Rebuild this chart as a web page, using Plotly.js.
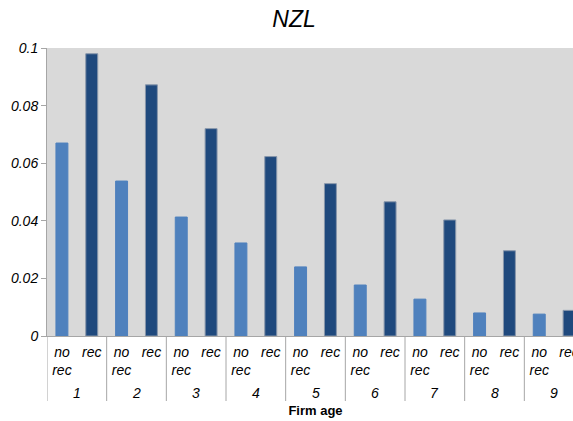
<!DOCTYPE html>
<html>
<head>
<meta charset="utf-8">
<script src="https://cdn.plot.ly/plotly-3.0.1.min.js"></script>
<style>
html,body{margin:0;padding:0;overflow:hidden;background:#fff;}
#chart{width:600px;height:421px;}
</style>
</head>
<body>
<div id="chart"></div>
<script>
// Data
const firmAges = ['1','2','3','4','5','6','7','8','9'];
const groupLabels = ['no<br>rec','rec'];
const noRecValues = [0.0670, 0.0538, 0.0413, 0.0323, 0.0240, 0.0177, 0.0128, 0.0080, 0.0076];
const recValues   = [0.0980, 0.0872, 0.0720, 0.0623, 0.0529, 0.0466, 0.0403, 0.0296, 0.0089];
const yTicks = [0, 0.02, 0.04, 0.06, 0.08, 0.1];
const yTickText = ['0','0.02','0.04','0.06','0.08','0.1'];

const colNoRec = '#4f81bd';
const colRec = '#1f497d';
const gridGray = '#a6a6a6';
const fontFam = 'Liberation Sans, Arial, sans-serif';

// Build slot positions (index of each bar) and tick labels from the arrays
const xs = [], vals = [], cols = [], lineCols = [], tickVals = [], tickText = [];
firmAges.forEach((a, i) => {
  [noRecValues[i], recValues[i]].forEach((v, j) => {
    const slot = i * groupLabels.length + j;
    xs.push(slot); vals.push(v);
    cols.push(j === 0 ? colNoRec : colRec);
    lineCols.push(j === 0 ? colNoRec : '#8796ab');
    tickVals.push(slot); tickText.push(groupLabels[j]);
  });
});

const trace = {
  type: 'bar',
  x: xs,
  y: vals,
  width: 0.4,
  marker: {color: cols, line: {color: lineCols, width: 1}},
  hoverinfo: 'y'
};

// Outer (firm age) labels and group dividers, positioned via the x axis
const annotations = firmAges.map((a, i) => ({
  text: a, xref: 'x', yref: 'paper',
  x: i * 2 + 0.5, y: 0, yshift: -57, yanchor: 'middle', xanchor: 'center',
  showarrow: false, font: {family: fontFam, size: 14, style: 'italic', color: '#000'}
}));
const shapes = [];
for (let i = 0; i <= firmAges.length; i++) {
  shapes.push({
    type: 'line', xref: 'x', yref: 'paper',
    x0: i * 2 - 0.5, x1: i * 2 - 0.5, y0: 0, y1: -65 / 288,
    line: {color: gridGray, width: 1}
  });
}

const layout = {
  width: 600, height: 421,
  margin: {l: 47, r: 16, t: 48, b: 85},
  paper_bgcolor: '#ffffff',
  plot_bgcolor: '#d9d9d9',
  showlegend: false,
  font: {family: fontFam, color: '#000000'},
  title: {
    text: 'NZL',
    font: {family: fontFam, size: 23, style: 'italic', color: '#000'},
    xref: 'container', x: 294/600, xanchor: 'center',
    yref: 'container', y: 1 - 19/421, yanchor: 'middle'
  },
  xaxis: {
    type: 'linear',
    range: [-0.5, 17.5],
    tickmode: 'array', tickvals: tickVals, ticktext: tickText,
    showline: true, linecolor: gridGray, linewidth: 1,
    ticks: '',
    ticklabelstandoff: 3,
    showgrid: false, zeroline: false,
    tickfont: {family: fontFam, size: 14, style: 'italic', color: '#000'},
    title: {text: 'Firm age', font: {family: fontFam, size: 13, weight: 'bold', color: '#000'}, standoff: 28}
  },
  yaxis: {
    range: [0, 0.1],
    tickvals: yTicks, ticktext: yTickText,
    showline: true, linecolor: gridGray, linewidth: 1,
    ticks: 'outside', ticklen: 5, tickcolor: gridGray,
    showgrid: false, zeroline: false,
    tickfont: {family: fontFam, size: 14, style: 'italic', color: '#000'}
  },
  annotations: annotations,
  shapes: shapes,
  bargap: 0
};

Plotly.newPlot('chart', [trace], layout, {displayModeBar: false, staticPlot: true});
</script>
</body>
</html>
